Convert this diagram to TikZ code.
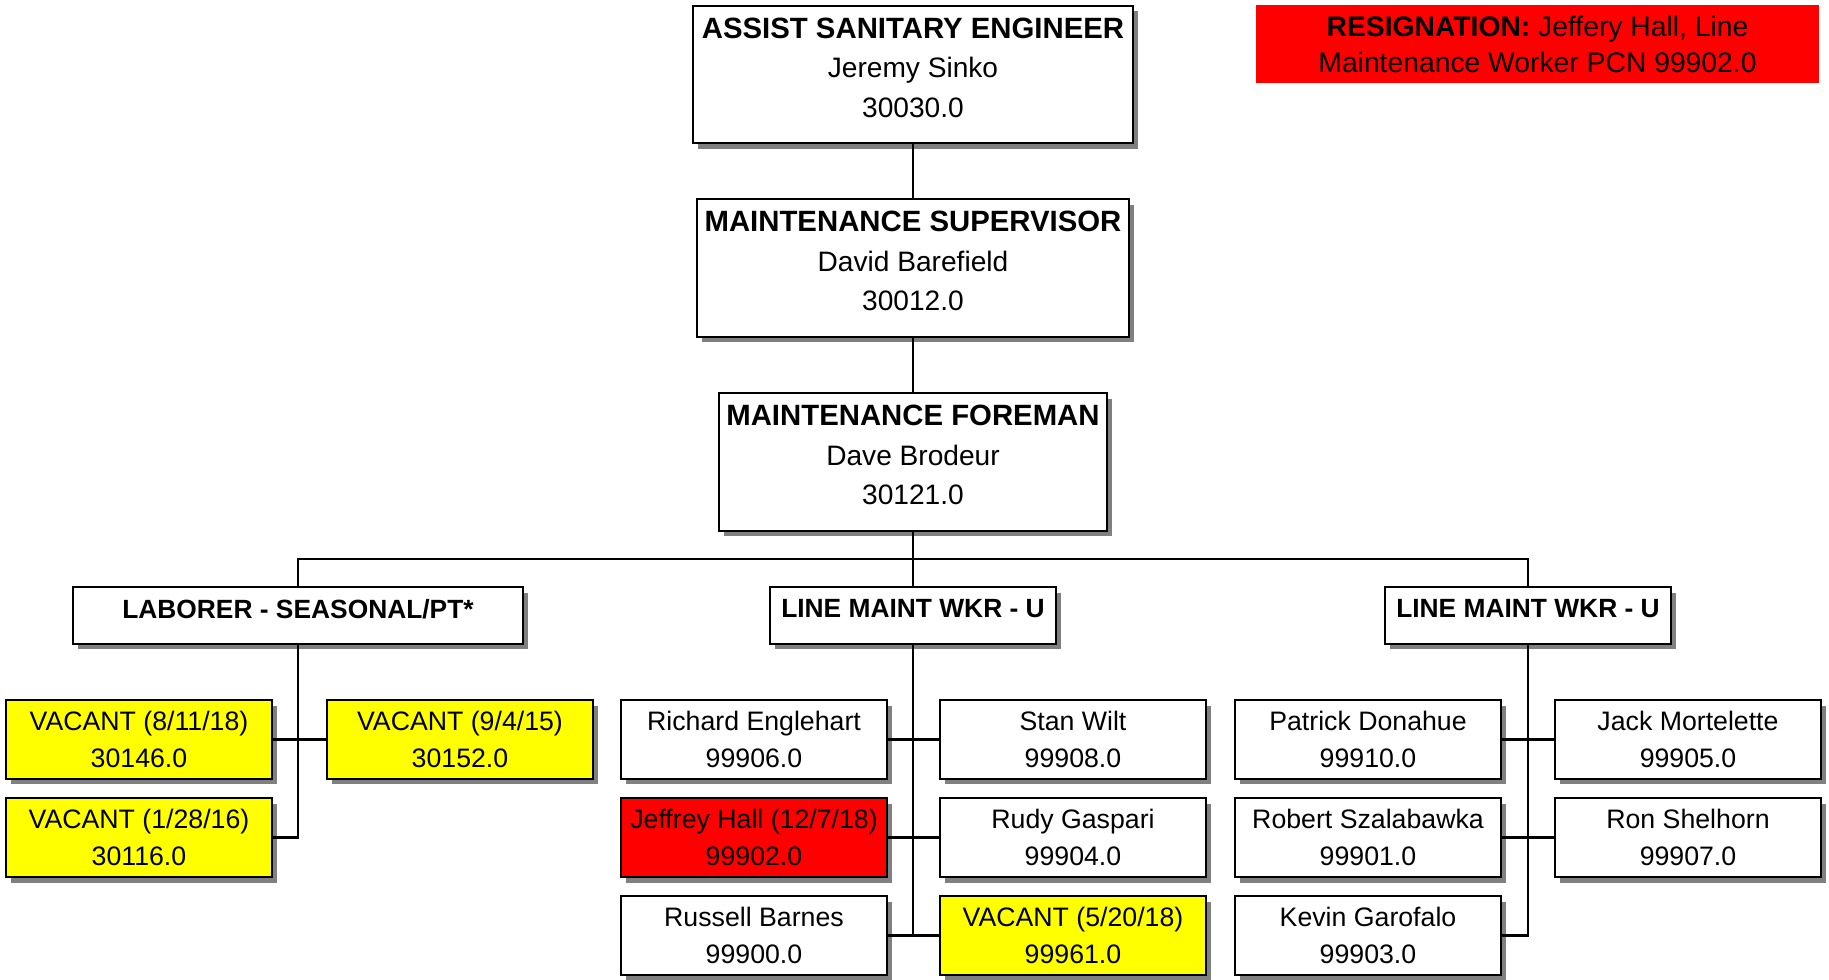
\documentclass[tikz,border=0pt]{standalone}
\usepackage{fontspec}
\setmainfont{Liberation Sans}
\usetikzlibrary{shadows}
\definecolor{vacyellow}{HTML}{FFFF00}
\definecolor{resred}{HTML}{FF0000}
\definecolor{shadegray}{HTML}{808080}
\newcommand{\postitle}[1]{{\fontsize{16.7}{22.5}\selectfont\bfseries #1}}
\tikzset{
  box/.style={draw=black,line width=1.3pt,fill=white,inner sep=0pt,align=center,
              drop shadow={shadow xshift=0.1cm,shadow yshift=-0.11cm,
                           fill=shadegray,opacity=1}},
  % obere Ebene
  head/.style={box,minimum height=2.75cm,text depth=0.28cm,
               font=\fontsize{16}{22.5}\selectfont},
  grp/.style={box,minimum height=1.13cm,text depth=0.28cm,
              font=\fontsize{15}{20}\selectfont\bfseries},
  % Stellen
  pcn/.style={box,minimum width=5.32cm,minimum height=1.58cm,
              font=\fontsize{15.2}{21.2}\selectfont},
  vac/.style={pcn,fill=vacyellow},
  gone/.style={pcn,fill=resred},
  note/.style={fill=resred,inner sep=0pt,align=center,minimum width=11.26cm,
               minimum height=1.56cm,font=\fontsize{16.1}{20.4}\selectfont},
  conn/.style={draw=black,line width=1.2pt},
}
\begin{document}
\begin{tikzpicture}[x=0.02cm,y=-0.02cm]
  \useasboundingbox (0,0) rectangle (1829,980);
  \node[head,minimum width=8.8cm] (ase) at (913,74.5)
    {\postitle{ASSIST SANITARY ENGINEER}\\Jeremy Sinko\\30030.0};
  \node[head,minimum width=8.64cm] (msup) at (913,268)
    {\postitle{MAINTENANCE SUPERVISOR}\\David Barefield\\30012.0};
  \node[head,minimum width=7.76cm] (mfor) at (913,462)
    {\postitle{MAINTENANCE FOREMAN}\\Dave Brodeur\\30121.0};
  \node[note] (resign) at (1537.5,44)
    {\textbf{RESIGNATION:} Jeffery Hall, Line\\Maintenance Worker PCN 99902.0};
  % Gruppen
  \node[grp,minimum width=9cm] (lab) at (298,615.5) {LABORER - SEASONAL/PT*};
  \node[grp,minimum width=5.72cm] (lmw1) at (913,615.5) {LINE MAINT WKR - U};
  \node[grp,minimum width=5.72cm] (lmw2) at (1528,615.5) {LINE MAINT WKR - U};
  % Saisonkraefte
  \node[vac] (v1) at (139,739.5) {VACANT (8/11/18)\\30146.0};
  \node[vac] (v2) at (460,739.5) {VACANT (9/4/15)\\30152.0};
  \node[vac] (v3) at (139,837.5) {VACANT (1/28/16)\\30116.0};
  % Linie 1
  \node[pcn] (re) at (754,739.5) {Richard Englehart\\99906.0};
  \node[pcn] (sw) at (1073,739.5) {Stan Wilt\\99908.0};
  \node[gone] (jh) at (754,837.5) {Jeffrey Hall (12/7/18)\\99902.0};
  \node[pcn] (rg) at (1073,837.5) {Rudy Gaspari\\99904.0};
  \node[pcn] (rb) at (754,935.5) {Russell Barnes\\99900.0};
  \node[vac] (v4) at (1073,935.5) {VACANT (5/20/18)\\99961.0};
  % Linie 2
  \node[pcn] (pd) at (1368,739.5) {Patrick Donahue\\99910.0};
  \node[pcn] (jm) at (1688,739.5) {Jack Mortelette\\99905.0};
  \node[pcn] (rsz) at (1368,837.5) {Robert Szalabawka\\99901.0};
  \node[pcn] (rsh) at (1688,837.5) {Ron Shelhorn\\99907.0};
  \node[pcn] (kg) at (1368,935.5) {Kevin Garofalo\\99903.0};
  % Verbindungen
  \draw[conn] (ase.south) -- (msup.north);
  \draw[conn] (msup.south) -- (mfor.north);
  \draw[conn] (mfor.south) -- ++(0,27) coordinate (bus);
  \draw[conn] (bus) -| (lab.north);
  \draw[conn] (bus) -| (lmw2.north);
  \draw[conn] (bus) -- (lmw1.north);
  \draw[conn] (lab.south) |- (v3.east);
  \draw[conn] (v1.east) -- (v2.west);
  \draw[conn] (lmw1.south) -- (lmw1.south |- rb.east);
  \draw[conn] (re.east) -- (sw.west);
  \draw[conn] (jh.east) -- (rg.west);
  \draw[conn] (rb.east) -- (v4.west);
  \draw[conn] (lmw2.south) |- (kg.east);
  \draw[conn] (pd.east) -- (jm.west);
  \draw[conn] (rsz.east) -- (rsh.west);
\end{tikzpicture}
\end{document}
